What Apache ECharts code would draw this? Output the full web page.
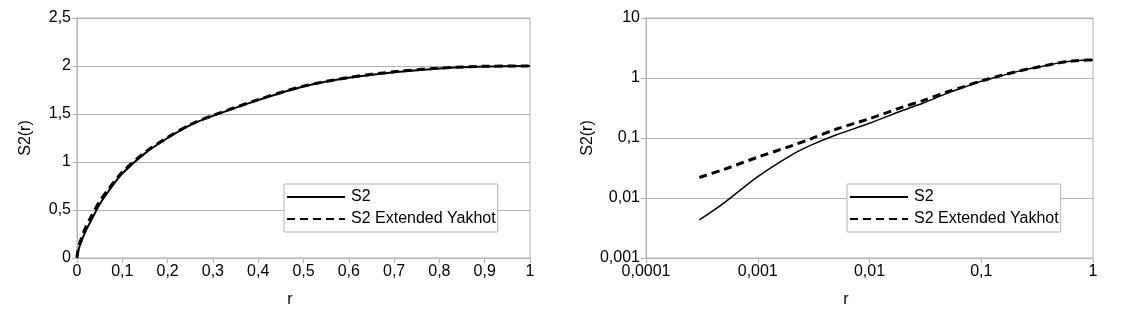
<!DOCTYPE html>
<html>
<head>
<meta charset="utf-8">
<script src="https://cdn.jsdelivr.net/npm/echarts@6/dist/echarts.min.js"></script>
<style>
  html, body { margin: 0; padding: 0; background: #fff; }
  #chart { width: 1123px; height: 323px; }
</style>
</head>
<body>
<div id="chart"></div>
<script>
// values
var rValues = [0, 0.0003, 0.0005, 0.001, 0.002, 0.003, 0.005, 0.01, 0.02, 0.03, 0.05, 0.07, 0.1, 0.15, 0.2, 0.25, 0.3, 0.4, 0.5, 0.6, 0.7, 0.8, 0.9, 1.0]
var s2Values = [0, 0.0043, 0.0083, 0.0227, 0.052, 0.076, 0.112, 0.176, 0.29, 0.38, 0.56, 0.7, 0.88, 1.09, 1.25, 1.385, 1.48, 1.645, 1.787, 1.877, 1.935, 1.975, 1.995, 2.0]
var yakhotValues = [0, 0.022, 0.030, 0.048, 0.074, 0.097, 0.14, 0.21, 0.33, 0.42, 0.59, 0.72, 0.895, 1.1, 1.255, 1.39, 1.485, 1.65, 1.79, 1.88, 1.94, 1.978, 1.997, 2.0]
var seriesNames = ["S2", "S2 Extended Yakhot"]

var FONT = "Liberation Sans"
var GRAY = "#b3b3b3"

function pairs(ys, logOnly){
    var out = []
    for (var i = 0; i < rValues.length; i++){
        if (logOnly && rValues[i] <= 0) continue
        out.push([rValues[i], ys[i]])
    }
    return out
}

function comma(v){
    return String(Number(v.toPrecision(6))).replace(".", ",")
}

function axisBase(name, gap, pad){
    return {
        name: name,
        nameLocation: "middle",
        nameGap: gap,
        nameTextStyle: {fontFamily: FONT, fontSize: 16, color: "#000", padding: pad},
        axisLine: {lineStyle: {color: GRAY, width: 1}},
        axisTick: {show: true, inside: false, length: 5, lineStyle: {color: GRAY}},
        minorTick: {show: false},
        axisLabel: {fontFamily: FONT, fontSize: 16, color: "#000", formatter: comma, margin: 6},
        splitLine: {show: false}
    }
}

var chart = echarts.init(document.getElementById("chart"), null, {renderer: "canvas"})

var xLin = Object.assign(axisBase("r", 34, [0, 27, 0, 0]), {type: "value", gridIndex: 0, min: 0, max: 1, interval: 0.1})
var yLin = Object.assign(axisBase("S2(r)", 43, 0), {type: "value", gridIndex: 0, min: 0, max: 2.5, interval: 0.5,
    splitLine: {show: true, lineStyle: {color: GRAY, width: 1}}})
var xLog = Object.assign(axisBase("r", 34, [0, 47, 0, 0]), {type: "log", logBase: 10, gridIndex: 1, min: 0.0001, max: 1})
var yLog = Object.assign(axisBase("S2(r)", 48, 0), {type: "log", logBase: 10, gridIndex: 1, min: 0.001, max: 10,
    splitLine: {show: true, lineStyle: {color: GRAY, width: 1}}})

function legendAt(left){
    return {
        left: left, top: 184,
        orient: "vertical",
        data: seriesNames,
        itemWidth: 58, itemHeight: 14, itemGap: 6,
        padding: [5, 2, 5, 2],
        borderColor: GRAY, borderWidth: 1, backgroundColor: "#fff",
        itemStyle: {opacity: 0},
        textStyle: {fontFamily: FONT, fontSize: 16, color: "#000", padding: [0, 0, 0, 1]},
        selectedMode: false
    }
}

function lineSeries(name, idx, ys, width, dashed, logOnly){
    return {
        name: name,
        type: "line",
        xAxisIndex: idx, yAxisIndex: idx,
        data: pairs(ys, logOnly),
        showSymbol: false, symbol: "none",
        smooth: 0.3,
        lineStyle: {color: "#000", width: width, type: dashed ? [8, 5] : "solid"},
        itemStyle: {color: "#000"},
        animation: false,
        z: dashed ? 3 : 2
    }
}

var option = {
    backgroundColor: "#fff",
    animation: false,
    grid: [
        {left: 77, right: 593, top: 18, bottom: 65, show: true, borderColor: GRAY, borderWidth: 1, backgroundColor: "transparent"},
        {left: 646, right: 30, top: 18, bottom: 65, show: true, borderColor: GRAY, borderWidth: 1, backgroundColor: "transparent"}
    ],
    xAxis: [xLin, xLog],
    yAxis: [yLin, yLog],
    legend: [legendAt(284), legendAt(847)],
    series: [
        lineSeries(seriesNames[0], 0, s2Values, 2, false, false),
        lineSeries(seriesNames[1], 0, yakhotValues, 3, true, false),
        lineSeries(seriesNames[0], 1, s2Values, 1.5, false, true),
        lineSeries(seriesNames[1], 1, yakhotValues, 3, true, true)
    ]
}
chart.setOption(option)
</script>
</body>
</html>
